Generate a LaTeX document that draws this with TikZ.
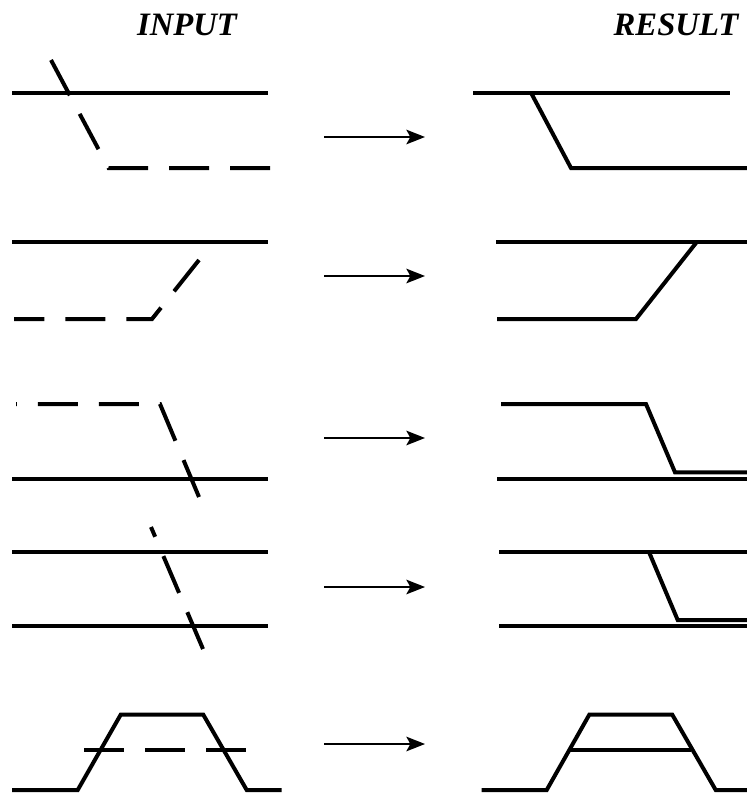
\documentclass[tikz,border=0pt]{standalone}
\usepackage{fontspec}
\setmainfont{Liberation Serif}
\usetikzlibrary{arrows.meta}
\begin{document}
\begin{tikzpicture}[x=0.75pt,y=-0.75pt,
  thick line/.style={line width=3pt,line cap=butt,line join=miter},
  dash line/.style={thick line,dash pattern=on 30pt off 15.75pt},
  flow arrow/.style={line width=1pt,-{Stealth[length=14pt,width=11pt,inset=3pt]}},
  title/.style={font=\fontsize{24.5}{28}\selectfont\bfseries\itshape,anchor=base,inner sep=0pt}]
\useasboundingbox (0,0) rectangle (747,794);
% titles
\node[title] (tin) at (187,35) {INPUT};
\node[title] (tres) at (676,35) {RESULT};
% ---------- row 1 ----------
\coordinate (a1) at (12,92.7);  \coordinate (a2) at (268,92.7);
\coordinate (b1) at (51,60); \coordinate (b2) at (108.5,168); \coordinate (b3) at (271,168);
\draw[thick line] (a1) -- (a2);
\draw[dash line] (b1) -- (b2) -- (b3);
\coordinate (r1s) at (324,137); \coordinate (r1e) at (425,137);
\draw[flow arrow] (r1s) -- (r1e);
\coordinate (c1) at (473,92.7); \coordinate (c2) at (730,92.7);
\coordinate (d1) at (531,92.7); \coordinate (d2) at (571,168); \coordinate (d3) at (747,168);
\draw[thick line] (c1) -- (c2);
\draw[thick line] (d1) -- (d2) -- (d3);
% ---------- row 2 ----------
\coordinate (e1) at (12,241.7); \coordinate (e2) at (268,241.7);
\coordinate (f1) at (199,260); \coordinate (f2) at (152,319); \coordinate (f3) at (14,319);
\draw[thick line] (e1) -- (e2);
\draw[dash line] (f1) -- (f2) -- (f3);
\coordinate (r2s) at (324,276); \coordinate (r2e) at (425,276);
\draw[flow arrow] (r2s) -- (r2e);
\coordinate (g1) at (496,241.7); \coordinate (g2) at (747,241.7);
\coordinate (h1) at (497,319); \coordinate (h2) at (636,319); \coordinate (h3) at (697,241.7);
\draw[thick line] (g1) -- (g2);
\draw[thick line] (h1) -- (h2) -- (h3);
% ---------- row 3 ----------
\coordinate (i1) at (199,497); \coordinate (i2) at (160,404); \coordinate (i3) at (16,404);
\coordinate (j1) at (12,478.7); \coordinate (j2) at (268,478.7);
\draw[dash line] (i1) -- (i2) -- (i3);
\draw[thick line] (j1) -- (j2);
\coordinate (r3s) at (324,438); \coordinate (r3e) at (425,438);
\draw[flow arrow] (r3s) -- (r3e);
\coordinate (k1) at (501,404); \coordinate (k2) at (646,404); \coordinate (k3) at (675,472.3); \coordinate (k4) at (747,472.3);
\coordinate (l1) at (497,478.7); \coordinate (l2) at (747,478.7);
\draw[thick line] (k1) -- (k2) -- (k3) -- (k4);
\draw[thick line] (l1) -- (l2);
% ---------- row 4 ----------
\coordinate (m1) at (12,552); \coordinate (m2) at (268,552);
\coordinate (n1) at (12,626); \coordinate (n2) at (268,626);
\coordinate (o1) at (203,649); \coordinate (o2) at (151,527);
\draw[thick line] (m1) -- (m2);
\draw[thick line] (n1) -- (n2);
\draw[dash line] (o1) -- (o2);
\coordinate (r4s) at (324,587); \coordinate (r4e) at (425,587);
\draw[flow arrow] (r4s) -- (r4e);
\coordinate (p1) at (499,552); \coordinate (p2) at (747,552);
\coordinate (q1) at (499,626); \coordinate (q2) at (747,626);
\coordinate (s1) at (649,552); \coordinate (s2) at (677.7,620); \coordinate (s3) at (747,620);
\draw[thick line] (p1) -- (p2);
\draw[thick line] (q1) -- (q2);
\draw[thick line] (s1) -- (s2) -- (s3);
% ---------- row 5 ----------
\coordinate (t1) at (12,790); \coordinate (t2) at (77.7,790); \coordinate (t3) at (120.7,714.7);
\coordinate (t4) at (203.3,714.7); \coordinate (t5) at (246.7,790); \coordinate (t6) at (281.7,790);
\draw[thick line] (t1) -- (t2) -- (t3) -- (t4) -- (t5) -- (t6);
\coordinate (u1) at (84,750); \coordinate (u2) at (247,750);
\draw[dash line] (u1) -- (u2);
\coordinate (r5s) at (324,744); \coordinate (r5e) at (425,744);
\draw[flow arrow] (r5s) -- (r5e);
\coordinate (v1) at (481.7,790); \coordinate (v2) at (546.7,790); \coordinate (v3) at (589.3,714.7);
\coordinate (v4) at (672.3,714.7); \coordinate (v5) at (715.7,790); \coordinate (v6) at (747,790);
\draw[thick line] (v1) -- (v2) -- (v3) -- (v4) -- (v5) -- (v6);
\coordinate (w1) at (570,750); \coordinate (w2) at (690.7,750);
\draw[thick line] (w1) -- (w2);
\end{tikzpicture}
\end{document}
